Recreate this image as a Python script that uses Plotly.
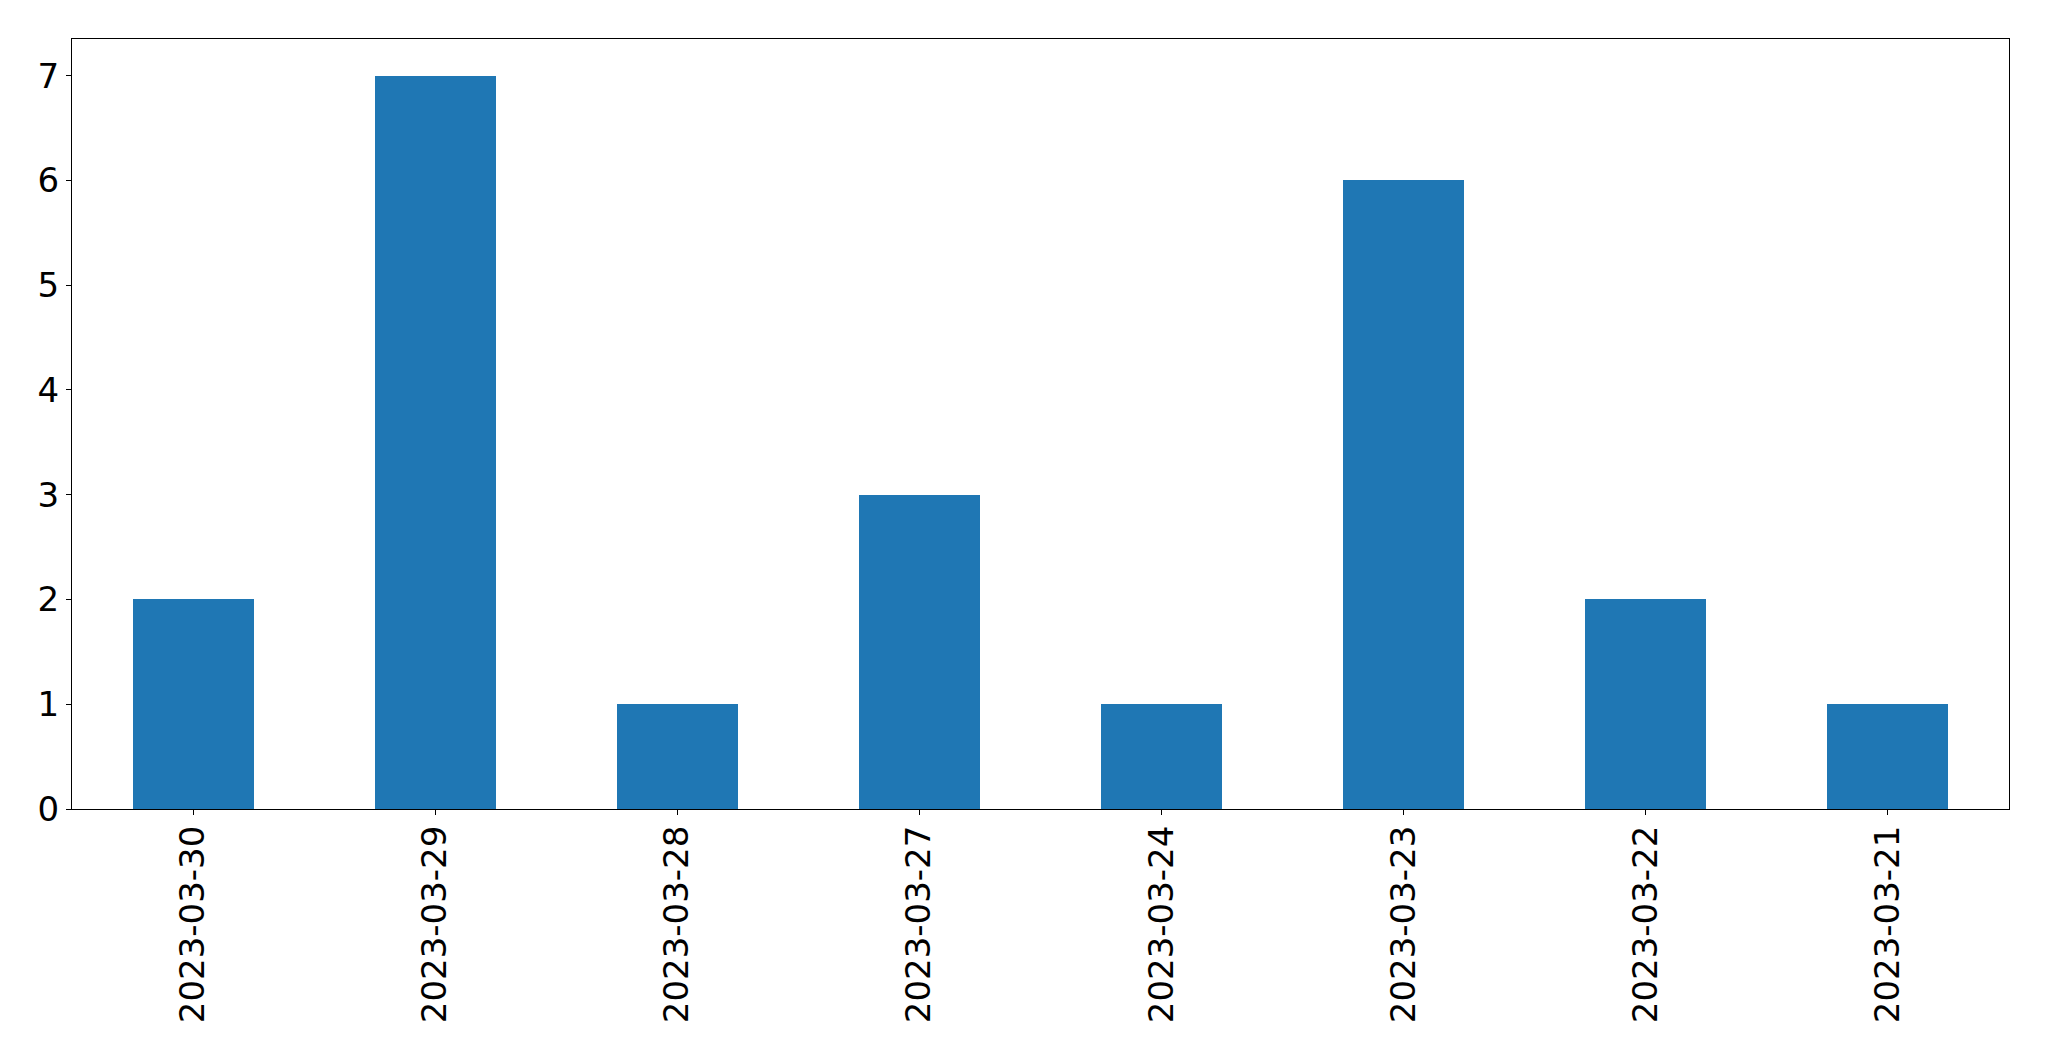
import plotly.graph_objects as go

dates = ["2023-03-30", "2023-03-29", "2023-03-28", "2023-03-27",
         "2023-03-24", "2023-03-23", "2023-03-22", "2023-03-21"]
counts = [2, 7, 1, 3, 1, 6, 2, 1]
y_ticks = [0, 1, 2, 3, 4, 5, 6, 7]

fig = go.Figure(go.Bar(x=dates, y=counts, width=0.5, marker_color="#1f77b4",
                       marker_line_width=0))

axis_common = dict(showline=True, linecolor="black", linewidth=1.1, mirror=True,
                   ticks="outside", ticklen=5, tickwidth=1.1, tickcolor="black",
                   showgrid=False, zeroline=False,
                   tickfont=dict(family="DejaVu Sans", size=34, color="black"))

fig.update_xaxes(type="category", range=[-0.5, 7.5], tickangle=-90,
                 ticklabelstandoff=-3, **axis_common)
fig.update_yaxes(range=[0, 7.35], tickvals=y_ticks, **axis_common)

fig.update_layout(width=2041, height=1053, autosize=False,
                  margin=dict(l=64.3, r=39.7, t=31.3, b=251.7, pad=0),
                  plot_bgcolor="white", paper_bgcolor="white",
                  showlegend=False, bargap=0)

fig.write_html("out.html")
